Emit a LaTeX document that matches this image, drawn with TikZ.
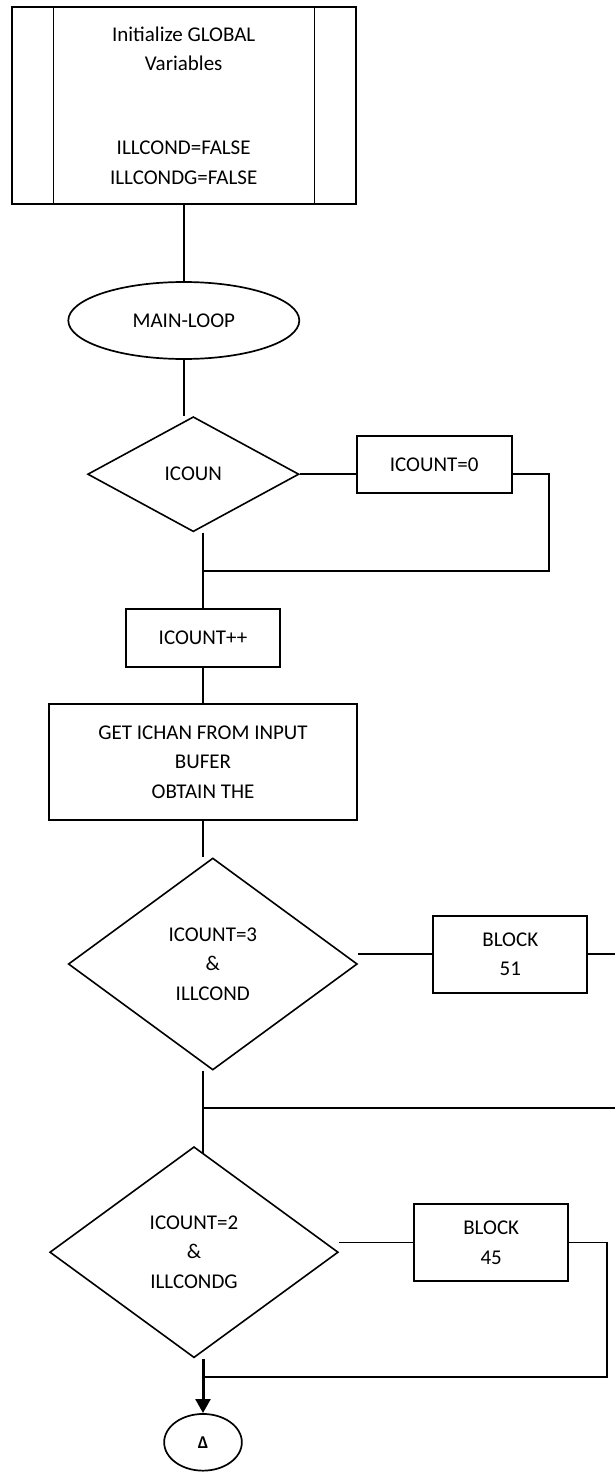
\documentclass[tikz,border=0pt]{standalone}
\usepackage{fontspec}
\setmainfont{Carlito}
\usetikzlibrary{shapes.geometric,arrows.meta,calc,backgrounds}
\begin{document}
\begin{tikzpicture}[x=1pt,y=-1pt,
  every node/.style={font=\fontsize{21}{29.5}\selectfont, inner sep=0pt, align=center},
  box/.style={draw, rectangle, line width=1.8pt, fill=white},
  dec/.style={draw, diamond, line width=1.6pt, fill=white},
  term/.style={draw, ellipse, line width=1.7pt, fill=white},
  conn/.style={line width=1.8pt},
  flowarrow/.style={line width=3pt, -{Triangle[width=14.7pt,length=14pt]}},
]
\useasboundingbox (0,0) rectangle (615,1472);

% nodes
\node[box, minimum width=344pt, minimum height=196.7pt] (init) at (183.7,105.6)
  {Initialize GLOBAL\\Variables\\[54.6pt]ILLCOND=FALSE\\ILLCONDG=FALSE};
\draw[line width=1.2pt] ($(init.north west)+(42.6,0)$) -- ($(init.south west)+(42.6,0)$);
\draw[line width=1.2pt] ($(init.north east)+(-42.4,0)$) -- ($(init.south east)+(-42.4,0)$);

\node[term, minimum width=231pt, minimum height=77pt] (loop) at (183.8,320.5) {MAIN-LOOP};

\node[dec, minimum width=211.3pt, minimum height=115pt] (icoun) at (193.3,474.2) {ICOUN};
\node[box, minimum width=155pt, minimum height=57.6pt] (cnt0) at (434.2,464.5) {ICOUNT=0};

\node[box, minimum width=154pt, minimum height=57.7pt] (inc) at (203,637.8) {ICOUNT++};
\node[box, minimum width=307.4pt, minimum height=115.7pt] (get) at (203,762.2)
  {GET ICHAN FROM INPUT\\BUFER\\OBTAIN THE};

\node[dec, minimum width=289pt, minimum height=212pt] (d3) at (212.8,964) {ICOUNT=3\\\&\\ILLCOND};
\node[box, minimum width=154pt, minimum height=76.7pt] (b51) at (510.3,954.3) {BLOCK\\51};

\node[dec, minimum width=288.5pt, minimum height=211pt] (d4) at (194,1252.2) {ICOUNT=2\\\&\\ILLCONDG};
\node[box, minimum width=154.3pt, minimum height=77pt] (b45) at (491.2,1242.5) {BLOCK\\45};

\node[term, minimum width=77.7pt, minimum height=56.7pt, font=\fontsize{18}{20}\selectfont\bfseries] (end) at (203,1442.3) {\raisebox{-6pt}{Δ}};

% helper coordinates
\coordinate (edge) at (616,0);
\coordinate (r1) at (549,571);
\coordinate (j2) at (203,1108);
\coordinate (r2) at (606.7,1376.7);

% connectors
\draw[conn] (init.south) -- (init.south |- loop.north);
\draw[conn] (loop.south) -- (loop.south |- icoun.north);
\draw[conn] (icoun.east) -- (icoun.east -| cnt0.west);
\draw[conn] (cnt0.east |- icoun.east) -| (r1) -- (r1 -| inc.north);
\draw[conn] (icoun.south -| inc.north) -- (inc.north);
\draw[conn] (inc.south) -- (get.north);
\draw[conn] (get.south) -- (get.south |- d3.north);
\draw[conn] (d3.east |- b51.west) -- (b51.west);
\draw[conn] (b51.east) -- (b51.east -| edge);
\begin{scope}[on background layer]
  \fill[white] (0,0) rectangle (615,1472);
  \draw[conn] (d3.south -| get.south) -- (get.south |- d4.center);
\end{scope}
\draw[conn] (j2) -- (j2 -| edge);
\draw[conn] (d4.east |- b45.west) -- (b45.west);
\draw[conn] (b45.east) -| (r2) -- (r2 -| end.north);
\draw[flowarrow] (d4.south -| end.north) -- (end.north);
\end{tikzpicture}
\end{document}
